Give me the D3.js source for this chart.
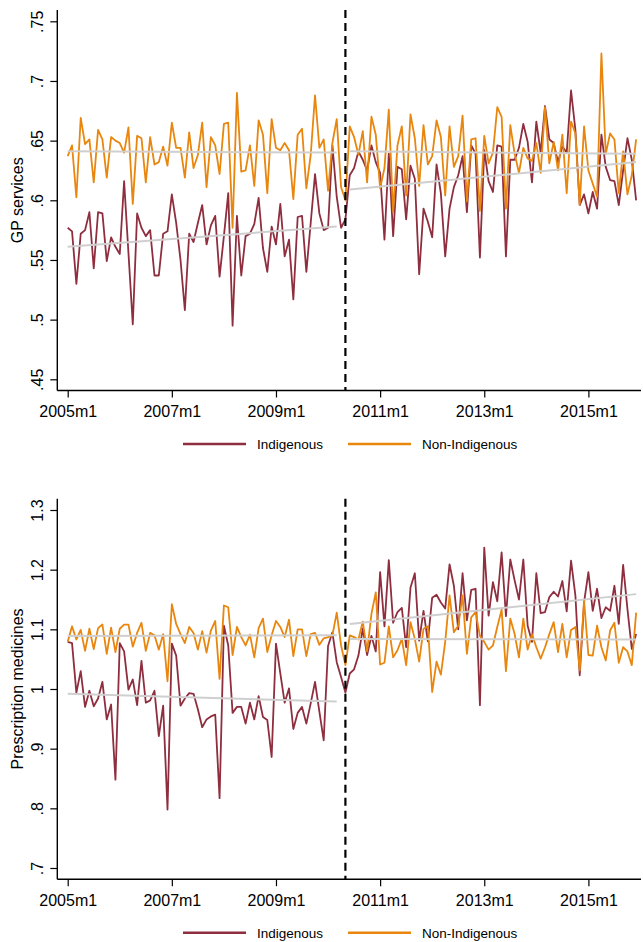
<!DOCTYPE html>
<html>
<head>
<meta charset="utf-8">
<script src="https://cdn.jsdelivr.net/npm/d3@7"></script>
<style>
  html, body { margin: 0; padding: 0; background: #fff; }
  svg { display: block; font-family: "Liberation Sans", Arial, Helvetica, sans-serif; }
</style>
</head>
<body>
<svg id="chart" width="643" height="942"></svg>
<script>
// month index 0 = 2005m1 ... 131 = 2015m12
const tickMonths = [0, 24, 48, 72, 96, 120]
const tickLabels = ['2005m1', '2007m1', '2009m1', '2011m1', '2013m1', '2015m1']
const policyMonth = 64

const gpIndigenous = [
  .577, .574, .530, .572, .575, .590, .543, .590, .589, .549, .569, .561,
  .555, .616, .556, .496, .589, .577, .570, .575, .537, .537, .572, .574,
  .605, .581, .550, .508, .572, .565, .581, .596, .563, .579, .587, .536,
  .570, .606, .495, .587, .537, .570, .572, .580, .602, .560, .540, .578,
  .563, .597, .553, .567, .517, .586, .587, .540, .581, .622, .589, .575,
  .577, .646, .603, .577, .584, .621, .627, .641, .634, .625, .646, .632,
  .623, .567, .639, .570, .628, .626, .584, .629, .618, .538, .593, .582,
  .569, .630, .606, .553, .593, .611, .621, .637, .590, .646, .639, .552,
  .642, .616, .607, .646, .645, .553, .634, .634, .644, .664, .649, .615,
  .666, .640, .679, .651, .648, .632, .645, .640, .692, .659, .596, .605,
  .589, .607, .593, .655, .628, .617, .616, .596, .625, .652, .634, .600
]
const gpNonIndigenous = [
  .637, .646, .6025, .669, .647, .651, .615, .659, .651, .619, .653, .650,
  .648, .640, .661, .597, .654, .652, .615, .653, .630, .632, .645, .629,
  .665, .644, .644, .619, .657, .627, .638, .665, .611, .653, .646, .622,
  .664, .665, .577, .690, .624, .625, .646, .612, .667, .655, .606, .668,
  .644, .642, .648, .642, .601, .655, .660, .610, .638, .688, .644, .651,
  .608, .648, .668, .611, .600, .662, .653, .638, .658, .615, .670, .655,
  .610, .627, .676, .590, .646, .662, .604, .672, .652, .612, .663, .630,
  .637, .667, .653, .604, .662, .628, .637, .671, .599, .651, .652, .591,
  .654, .631, .640, .678, .670, .593, .663, .639, .623, .644, .635, .633,
  .648, .623, .678, .631, .649, .625, .655, .606, .666, .656, .596, .662,
  .625, .614, .603, .723, .639, .656, .651, .606, .641, .605, .621, .651
]
const rxIndigenous = [
  1.079, 1.077, .994, 1.030, .970, .997, .971, .984, 1.012, .949, .974, .848,
  1.077, 1.063, .999, 1.016, .973, 1.047, .977, .981, .997, .921, .972, .798,
  1.076, 1.056, .972, .984, .993, .992, .966, .936, .949, .954, .957, .817,
  1.106, 1.073, .960, .970, .970, .942, .977, .949, .988, .953, .948, .886,
  1.076, 1.026, .977, 1.001, .933, .960, .970, .942, .976, 1.012, .962, .914,
  1.072, 1.095, 1.045, 1.020, .994, 1.026, 1.033, 1.056, 1.101, 1.057, 1.089, 1.063,
  1.196, 1.105, 1.216, 1.111, 1.129, 1.136, 1.070, 1.170, 1.194, 1.081, 1.131, 1.080,
  1.153, 1.158, 1.145, 1.135, 1.209, 1.173, 1.100, 1.194, 1.115, 1.166, 1.168, .973,
  1.237, 1.123, 1.179, 1.147, 1.229, 1.122, 1.217, 1.182, 1.150, 1.217, 1.106, 1.079,
  1.194, 1.127, 1.129, 1.154, 1.163, 1.155, 1.181, 1.130, 1.215, 1.157, 1.023, 1.145,
  1.196, 1.131, 1.168, 1.119, 1.137, 1.131, 1.173, 1.109, 1.208, 1.134, 1.067, 1.092
]
const rxNonIndigenous = [
  1.079, 1.105, 1.083, 1.099, 1.064, 1.101, 1.067, 1.102, 1.108, 1.059, 1.103, 1.062,
  1.101, 1.108, 1.108, 1.071, 1.094, 1.111, 1.064, 1.094, 1.090, 1.066, 1.092, 1.013,
  1.142, 1.109, 1.092, 1.077, 1.104, 1.094, 1.066, 1.097, 1.061, 1.098, 1.114, 1.017,
  1.140, 1.137, 1.057, 1.104, 1.087, 1.073, 1.091, 1.053, 1.102, 1.118, 1.062, 1.090,
  1.114, 1.104, 1.087, 1.116, 1.055, 1.100, 1.100, 1.055, 1.092, 1.094, 1.074, 1.085,
  1.087, 1.090, 1.128, 1.073, 1.040, 1.090, 1.087, 1.083, 1.113, 1.063, 1.126, 1.162,
  1.041, 1.044, 1.105, 1.053, 1.065, 1.084, 1.040, 1.112, 1.084, 1.046, 1.101, 1.105,
  .995, 1.046, 1.024, 1.079, 1.157, 1.095, 1.106, 1.157, 1.059, 1.120, 1.129, 1.089,
  1.079, 1.066, 1.073, 1.104, 1.133, 1.030, 1.118, 1.092, 1.053, 1.118, 1.066, 1.092,
  1.070, 1.051, 1.070, 1.092, 1.112, 1.062, 1.109, 1.053, 1.099, 1.104, 1.031, 1.148,
  1.057, 1.056, 1.106, 1.070, 1.048, 1.098, 1.111, 1.044, 1.070, 1.063, 1.040, 1.128
]

// fitted trend segments: [month, value] pairs (pre, post)
const gpIndigenousFit = [[[0, .561], [62, .578]], [[65, .609], [131, .632]]]
const gpNonIndigenousFit = [[[0, .641], [62, .640]], [[65, .641], [131, .639]]]
const rxIndigenousFit = [[[0, .992], [62, .979]], [[65, 1.109], [131, 1.159]]]
const rxNonIndigenousFit = [[[0, 1.089], [62, 1.090]], [[65, 1.084], [131, 1.083]]]

const gpTicks = [.45, .5, .55, .6, .65, .7, .75]
const gpTickLabels = ['.45', '.5', '.55', '.6', '.65', '.7', '.75']
const rxTicks = [.7, .8, .9, 1, 1.1, 1.2, 1.3]
const rxTickLabels = ['.7', '.8', '.9', '1', '1.1', '1.2', '1.3']

const legendNames = ['Indigenous', 'Non-Indigenous']

const COLORS = { ind: '#8e2e3e', non: '#e8860e', fit: '#cfcfcf' }
const AXIS_X = 57.3
const RIGHT = 641

const svg = d3.select('#chart')

const xScale = d3.scaleLinear().domain([0, 120]).range([67.7, 588.4])

function drawPanel(top, cfg) {
    // top = y of the highest tick
    const bottomTick = top + 358
    const axisTop = top - 11.3
    const axisBottom = bottomTick + 11.2

    const yScale = d3.scaleLinear().domain(cfg.domain).range([bottomTick, top])
    const g = svg.append('g')

    // y axis
    const yAxis = g.append('g')
        .attr('transform', `translate(${AXIS_X},0)`)
        .call(d3.axisLeft(yScale).tickValues(cfg.ticks)
            .tickFormat((d, i) => cfg.tickLabels[i])
            .tickSize(7).tickSizeOuter(0))
    yAxis.select('.domain').remove()
    yAxis.selectAll('line').attr('stroke', '#000').attr('stroke-width', 1.2)
    yAxis.selectAll('text')
        .attr('x', null).attr('dy', null)
        .attr('transform', 'translate(-14,0) rotate(-90)')
        .attr('text-anchor', 'middle')
        .attr('fill', '#000')
        .style('font-size', '16px')
        .style('font-family', '"Liberation Sans", Arial, sans-serif')

    // x axis
    const xAxis = g.append('g')
        .attr('transform', `translate(0,${axisBottom})`)
        .call(d3.axisBottom(xScale).tickValues(tickMonths)
            .tickFormat((d, i) => tickLabels[i])
            .tickSize(7).tickSizeOuter(0).tickPadding(8))
    xAxis.select('.domain').remove()
    xAxis.selectAll('line').attr('stroke', '#000').attr('stroke-width', 1.2)
    xAxis.selectAll('text')
        .attr('fill', '#000')
        .style('font-size', '16px')
        .style('font-family', '"Liberation Sans", Arial, sans-serif')

    // axis lines
    g.append('line')
        .attr('x1', AXIS_X).attr('x2', AXIS_X)
        .attr('y1', axisTop).attr('y2', axisBottom)
        .attr('stroke', '#000').attr('stroke-width', 1.4)
    g.append('line')
        .attr('x1', AXIS_X).attr('x2', RIGHT)
        .attr('y1', axisBottom).attr('y2', axisBottom)
        .attr('stroke', '#000').attr('stroke-width', 1.4)

    // axis title
    g.append('text')
        .attr('transform', `translate(23,${(axisTop + axisBottom) / 2}) rotate(-90)`)
        .attr('text-anchor', 'middle')
        .style('font-size', '16px')
        .text(cfg.title)

    const lineGen = d3.line()
        .x((d, i) => xScale(i))
        .y(d => yScale(d))

    g.append('path').datum(cfg.ind)
        .attr('fill', 'none').attr('stroke', COLORS.ind)
        .attr('stroke-width', 1.8).attr('stroke-linejoin', 'round')
        .attr('d', lineGen)
    g.append('path').datum(cfg.non)
        .attr('fill', 'none').attr('stroke', COLORS.non)
        .attr('stroke-width', 1.8).attr('stroke-linejoin', 'round')
        .attr('d', lineGen)

    // fitted lines
    const fitGen = d3.line().x(d => xScale(d[0])).y(d => yScale(d[1]))
    const fits = [...cfg.indFit, ...cfg.nonFit]
    g.selectAll('.fit').data(fits).enter()
        .append('path').attr('class', 'fit')
        .attr('fill', 'none').attr('stroke', COLORS.fit)
        .attr('stroke-width', 2)
        .attr('d', fitGen)

    // policy line
    g.append('line')
        .attr('x1', xScale(policyMonth)).attr('x2', xScale(policyMonth))
        .attr('y1', axisTop).attr('y2', axisBottom)
        .attr('stroke', '#000').attr('stroke-width', 2.2)
        .attr('stroke-dasharray', '8,5')

    // legend
    const ly = top + 422.7
    const legendItems = [
        { name: legendNames[0], color: COLORS.ind, x1: 183, x2: 246, tx: 257 },
        { name: legendNames[1], color: COLORS.non, x1: 348, x2: 411, tx: 422 }
    ]
    legendItems.forEach(d => {
        g.append('line')
            .attr('x1', d.x1).attr('x2', d.x2)
            .attr('y1', ly).attr('y2', ly)
            .attr('stroke', d.color).attr('stroke-width', 2.5)
        g.append('text')
            .attr('x', d.tx).attr('y', ly + 5)
            .style('font-size', '13.5px')
            .text(d.name)
    })
}

drawPanel(21.3, {
    domain: [.45, .75], ticks: gpTicks, tickLabels: gpTickLabels,
    title: 'GP services',
    ind: gpIndigenous, non: gpNonIndigenous,
    indFit: gpIndigenousFit, nonFit: gpNonIndigenousFit
})

drawPanel(510, {
    domain: [.7, 1.3], ticks: rxTicks, tickLabels: rxTickLabels,
    title: 'Prescription medicines',
    ind: rxIndigenous, non: rxNonIndigenous,
    indFit: rxIndigenousFit, nonFit: rxNonIndigenousFit
})
</script>
</body>
</html>
